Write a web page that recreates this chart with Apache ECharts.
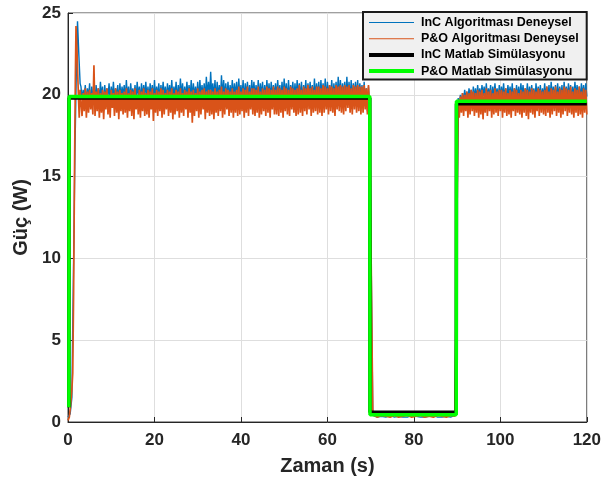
<!DOCTYPE html>
<html>
<head>
<meta charset="utf-8">
<script src="https://cdn.jsdelivr.net/npm/echarts@6/dist/echarts.min.js"></script>
<style>
html, body { margin: 0; padding: 0; background: #fff; }
#main { width: 604px; height: 484px; }
</style>
</head>
<body>
<div id="main"></div>
<script>
// eksen ayarlari
var xTicks = [0, 20, 40, 60, 80, 100, 120];
var yTicks = [0, 5, 10, 15, 20, 25];
var seriesNames = ["InC Algoritması Deneysel", "P&O Algoritması Deneysel", "InC Matlab Simülasyonu", "P&O Matlab Simülasyonu"];

// InC deneysel: baslangic [t, P]
var incStart = [[0, 0.3], [0.5, 0.5], [0.9, 1.5], [1.1, 6], [1.4, 12], [1.6, 16.5], [1.9, 21], [2.2, 24.5], [2.5, 22.5], [2.8, 20.7]];
// InC deneysel: 3 s - 69.75 s, 0.25 s aralikla
var incBand1 = [
  20.5,19.7,20.3,19.9,20.6,19.5,20.4,19.8,20.7,19.2,20.5,19.9,20.3,19.6,20.6,19.8,20.4,19.7,20.8,19.9,
  20.5,19.0,20.6,19.8,20.4,19.9,20.7,19.6,20.5,19.8,20.8,19.7,20.4,19.9,20.6,19.5,20.7,19.8,20.5,19.9,
  20.6,19.7,20.9,19.8,20.5,19.6,20.7,19.9,20.4,19.8,20.6,19.7,20.8,19.9,20.5,19.6,20.7,19.8,20.6,19.9,
  20.8,19.8,20.5,19.7,20.7,19.9,20.6,19.6,20.9,19.8,20.5,19.9,20.7,19.7,20.6,19.8,20.8,19.9,20.5,19.7,
  20.7,19.9,20.6,19.8,20.9,19.7,20.5,19.9,20.8,19.6,20.6,19.8,21.0,19.9,20.7,19.7,20.5,19.8,20.8,19.9,
  20.6,19.8,20.9,19.7,20.7,19.9,20.5,19.8,20.8,19.6,20.9,19.9,20.6,19.8,20.7,19.7,21.1,19.9,20.8,19.8,
  21.4,19.9,20.7,19.8,20.9,19.6,20.8,19.9,20.6,19.7,21.2,19.8,20.9,19.9,20.7,19.7,20.8,19.8,20.6,19.9,
  20.9,19.8,20.7,19.9,20.8,19.7,21.0,19.9,20.6,19.8,20.9,19.6,20.7,19.9,20.8,19.8,20.6,19.7,20.9,19.9,
  20.8,19.9,20.6,19.7,20.9,19.8,20.7,19.9,20.8,19.6,20.6,19.8,20.9,19.9,20.7,19.7,20.8,19.8,20.6,19.9,
  20.7,19.8,20.9,19.9,20.6,19.7,20.8,19.8,21.0,19.9,20.7,19.6,20.9,19.8,20.6,19.9,20.8,19.7,20.7,19.8,
  20.9,19.9,20.7,19.8,20.8,19.6,20.6,19.9,20.9,19.7,20.7,19.8,20.8,19.9,20.6,19.7,21.0,19.8,20.7,19.9,
  20.8,19.7,20.9,19.9,20.7,19.8,21.0,19.6,20.8,19.9,20.6,19.8,20.9,19.7,20.7,19.9,20.8,19.8,21.1,19.9,
  20.9,19.8,20.7,19.9,20.8,19.7,21.1,19.9,20.8,19.8,20.9,19.6,20.7,19.9,20.8,19.8,20.9,19.7,20.7,19.9,
  20.6,19.2,20.8,19.5,20.4,19.0,20.5,19.3
];
// InC deneysel: 70.5 s - 89.5 s, 1 s aralikla
var incLow = [0.4,0.3,0.35,0.3,0.4,0.3,0.35,0.3,0.3,0.4,0.35,0.3,0.3,0.35,0.4,0.3,0.3,0.35,0.3,0.4];
// InC deneysel: 90.25 s - 120 s, 0.25 s aralikla
var incBand2 = [
  19.8,19.3,20.0,19.5,20.1,19.6,20.3,19.8,20.2,19.7,20.4,19.9,20.3,19.6,20.5,19.8,20.4,19.7,20.6,19.9,
  20.4,19.8,20.6,19.9,20.5,19.7,20.7,19.8,20.4,19.9,20.6,19.6,20.5,19.8,20.7,19.9,20.4,19.7,20.6,19.8,
  20.5,19.9,20.7,19.8,20.4,19.7,20.6,19.9,20.5,19.8,20.7,19.6,20.4,19.9,20.6,19.8,20.5,19.7,20.7,19.9,
  20.6,19.8,20.4,19.9,20.7,19.7,20.5,19.8,20.6,19.9,20.4,19.6,20.7,19.8,20.5,19.9,20.6,19.7,20.4,19.8,
  20.7,19.9,20.5,19.8,20.6,19.7,20.8,19.9,20.5,19.8,20.6,19.6,20.7,19.9,20.5,19.8,20.6,19.7,20.8,19.9,
  20.5,19.8,20.7,19.9,20.6,19.7,20.5,19.8,20.8,19.9,20.6,19.7,20.5,19.8,20.7,19.9,20.6,19.8,20.7,19.9
];

// P&O deneysel
var poStart = [[0, 0.1], [0.3, 0.3], [0.6, 1.0], [0.9, 2.0], [1.1, 3.0], [1.3, 8], [1.5, 15], [1.7, 21], [1.85, 24.2], [2.1, 22.5], [2.4, 20], [2.6, 18.6], [2.8, 20.3]];
var poBand1 = [
  20.3,18.7,20.1,19.0,20.4,18.6,20.2,18.9,20.3,19.1,20.1,18.8,21.8,18.7,20.2,19.0,20.4,18.6,20.1,18.9,
  20.3,18.5,20.2,19.1,20.4,18.8,20.0,18.6,20.3,19.2,20.1,18.7,20.4,18.9,20.2,18.5,20.3,19.0,20.1,18.8,
  20.2,18.9,20.4,18.6,20.1,19.0,20.3,18.7,20.2,18.5,20.4,19.1,20.0,18.8,20.3,18.6,20.2,19.0,20.4,18.7,
  20.1,18.8,20.3,18.6,20.2,19.1,20.4,18.4,20.1,18.9,20.3,18.7,20.2,19.0,20.4,18.6,20.3,18.8,20.1,19.1,
  20.3,18.7,20.2,18.9,20.4,18.5,20.1,18.8,20.3,19.0,20.2,18.6,20.4,18.9,20.1,18.7,20.3,19.1,20.2,18.6,
  20.4,18.9,20.2,18.3,20.3,18.7,20.1,19.0,20.4,18.6,20.2,18.8,20.3,19.1,20.4,18.5,20.2,18.9,20.3,18.7,
  20.3,18.8,20.2,18.5,20.4,18.9,20.2,18.7,20.3,19.0,20.5,18.6,20.2,18.8,20.4,19.1,20.3,18.7,20.2,18.9,
  20.4,18.6,20.2,18.9,20.3,18.7,20.5,18.8,20.2,19.0,20.4,18.6,20.3,18.9,20.5,18.7,20.2,19.1,20.4,18.8,
  20.4,18.7,20.3,18.9,20.5,18.6,20.2,18.8,20.4,19.0,20.3,18.7,20.5,18.9,20.4,18.6,20.3,19.1,20.5,18.8,
  20.3,18.8,20.5,18.7,20.4,18.9,20.3,18.6,20.5,19.0,20.4,18.8,20.3,18.7,20.5,19.1,20.4,18.9,20.3,18.7,
  20.4,18.8,20.6,18.9,20.3,18.7,20.5,19.0,20.4,18.8,20.6,19.1,20.4,18.7,20.5,18.9,20.3,19.0,20.5,18.8,
  20.5,18.9,20.4,18.7,20.6,18.9,20.5,19.1,20.4,18.8,20.6,19.0,20.5,18.9,20.4,18.7,20.6,19.1,20.5,19.0,
  20.6,18.9,20.5,18.8,20.6,19.0,20.5,19.2,20.6,18.9,20.4,18.8,20.6,19.1,20.5,18.9,20.6,19.0,20.5,18.8,
  20.5,18.9,20.6,19.1,20.4,18.8,20.6,19.0
];
var poLow = [0.45,0.3,0.4,0.35,0.3,0.4,0.3,0.35,0.4,0.3,0.35,0.4,0.3,0.35,0.3,0.4,0.35,0.3,0.4,0.35];
var poBand2 = [
  19.7,18.6,19.9,18.9,20.1,18.7,20.0,19.0,20.2,18.6,20.1,18.8,20.3,19.0,20.2,18.7,20.1,18.9,20.3,18.6,
  20.2,18.8,20.3,18.5,20.1,18.9,20.4,18.7,20.2,19.0,20.3,18.6,20.1,18.8,20.4,18.9,20.2,18.7,20.3,19.0,
  20.3,18.6,20.2,18.9,20.4,18.7,20.1,18.8,20.3,18.6,20.2,19.0,20.4,18.7,20.3,18.9,20.1,18.8,20.3,18.6,
  20.2,18.9,20.4,18.7,20.3,18.5,20.2,18.9,20.4,18.8,20.3,18.6,20.2,19.0,20.4,18.7,20.3,18.9,20.2,18.8,
  20.3,18.7,20.5,18.9,20.2,18.6,20.4,18.8,20.3,19.0,20.5,18.7,20.2,18.9,20.4,18.6,20.3,18.8,20.5,19.0,
  20.4,18.7,20.3,18.9,20.5,18.8,20.2,18.6,20.4,18.9,20.3,18.7,20.5,18.8,20.2,18.6,20.4,18.9,20.3,18.8
];

// Matlab simulasyonu [t, P]
var incSim = [[0.2, 0.9], [0.25, 19.8], [69.8, 19.8], [69.85, 0.6], [89.8, 0.6], [89.85, 19.45], [120, 19.45]];
var poSim = [[0.2, 0.9], [0.25, 19.9], [69.8, 19.9], [69.85, 0.45], [89.8, 0.45], [89.85, 19.6], [120, 19.6]];

// parcalari birlestir
function build(start, band1, low, band2){
  var out = start.slice();
  band1.forEach(function(v, i){ out.push([3 + i * 0.25, v]); });
  low.forEach(function(v, i){ out.push([70.5 + i, v]); });
  band2.forEach(function(v, i){ out.push([90.25 + i * 0.25, v]); });
  return out;
}
var incData = build(incStart, incBand1, incLow, incBand2);
var poData = build(poStart, poBand1, poLow, poBand2);

var font = "Arial, 'Liberation Sans', sans-serif";
var thinIcon = 'path://M0,0H45V1H0Z';
var thickIcon = 'path://M0,0H45V4H0Z';

var chart = echarts.init(document.getElementById('main'));
var option = {
  animation: false,
  grid: {
    left: 68, right: 15, top: 13, bottom: 62,
    show: true, borderColor: '#404040', borderWidth: 1, backgroundColor: 'transparent'
  },
  legend: {
    orient: 'vertical',
    left: 363, top: 12,
    padding: [4, 8, 2, 6],
    itemWidth: 45, itemHeight: 12, itemGap: 3.2,
    backgroundColor: '#f0f0f0',
    borderColor: '#1a1a1a', borderWidth: 2,
    textStyle: { fontFamily: font, fontWeight: 'bold', fontSize: 12.5, color: '#000', padding: [0, 0, 0, 2] },
    data: [
      { name: seriesNames[0], icon: thinIcon },
      { name: seriesNames[1], icon: thinIcon },
      { name: seriesNames[2], icon: thickIcon },
      { name: seriesNames[3], icon: thickIcon }
    ]
  },
  xAxis: {
    type: 'value', min: 0, max: 120, interval: 20,
    name: 'Zaman (s)', nameLocation: 'middle', nameGap: 34,
    nameTextStyle: { fontFamily: font, fontWeight: 'bold', fontSize: 20, color: '#262626' },
    axisLine: { lineStyle: { color: '#262626', width: 1 } },
    axisTick: { inside: true, length: 5, lineStyle: { color: '#262626' } },
    axisLabel: { fontFamily: font, fontWeight: 'bold', fontSize: 17, color: '#262626', margin: 10 },
    splitLine: { show: true, lineStyle: { color: '#dedede', width: 1 } }
  },
  yAxis: {
    type: 'value', min: 0, max: 25, interval: 5,
    name: 'Güç (W)', nameLocation: 'middle', nameGap: 35,
    nameTextStyle: { fontFamily: font, fontWeight: 'bold', fontSize: 20, color: '#262626' },
    axisLine: { show: true, lineStyle: { color: '#262626', width: 1 } },
    axisTick: { show: true, inside: true, length: 5, lineStyle: { color: '#262626' } },
    axisLabel: { fontFamily: font, fontWeight: 'bold', fontSize: 17, color: '#262626', margin: 7 },
    splitLine: { show: true, lineStyle: { color: '#dedede', width: 1 } }
  },
  series: [
    {
      name: seriesNames[0], type: 'line', data: incData, symbol: 'none',
      color: '#0072BD', lineStyle: { width: 1.4, color: '#0072BD' }
    },
    {
      name: seriesNames[1], type: 'line', data: poData, symbol: 'none',
      color: '#D95319', lineStyle: { width: 1.7, color: '#D95319' }
    },
    {
      name: seriesNames[2], type: 'line', data: incSim, symbol: 'none',
      color: '#000000', lineStyle: { width: 3.5, color: '#000000' }
    },
    {
      name: seriesNames[3], type: 'line', data: poSim, symbol: 'none',
      color: '#00FF00', lineStyle: { width: 3.5, color: '#00FF00' }
    }
  ]
};
chart.setOption(option);
</script>
</body>
</html>
